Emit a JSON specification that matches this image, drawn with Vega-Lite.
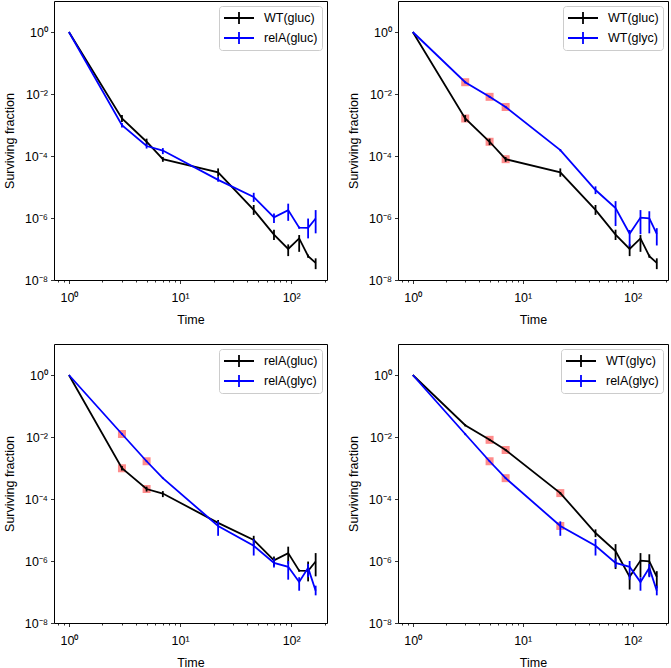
{
  "$schema": "https://vega.github.io/schema/vega-lite/v6.json",
  "background": "white",
  "padding": {"left": 2, "top": 0, "right": 0, "bottom": 0},
  "datasets": {
    "curves": [
      {"s": "WT(gluc)", "t": 1, "y": 1, "lo": 1, "hi": 1},
      {"s": "WT(gluc)", "t": 3, "y": 0.00162, "lo": 0.00126, "hi": 0.00209},
      {"s": "WT(gluc)", "t": 5, "y": 0.000288, "lo": 0.000224, "hi": 0.000363},
      {"s": "WT(gluc)", "t": 7, "y": 7.9e-5, "lo": 6.5e-5, "hi": 9.3e-5},
      {"s": "WT(gluc)", "t": 22, "y": 2.95e-5, "lo": 2.14e-5, "hi": 3.98e-5},
      {"s": "WT(gluc)", "t": 46, "y": 1.82e-6, "lo": 1.26e-6, "hi": 2.63e-6},
      {"s": "WT(gluc)", "t": 70, "y": 2.9e-7, "lo": 1.95e-7, "hi": 4.2e-7},
      {"s": "WT(gluc)", "t": 94, "y": 1.0e-7, "lo": 5.9e-8, "hi": 1.41e-7},
      {"s": "WT(gluc)", "t": 118, "y": 2.19e-7, "lo": 8.1e-8, "hi": 2.82e-7},
      {"s": "WT(gluc)", "t": 142, "y": 5.9e-8, "lo": 5.2e-8, "hi": 6.6e-8},
      {"s": "WT(gluc)", "t": 166, "y": 3.55e-8, "lo": 2.24e-8, "hi": 5.0e-8},
      {"s": "relA(gluc)", "t": 1, "y": 1, "lo": 1, "hi": 1},
      {"s": "relA(gluc)", "t": 3, "y": 0.00098, "lo": 0.00083, "hi": 0.00117},
      {"s": "relA(gluc)", "t": 5, "y": 0.00021, "lo": 0.000174, "hi": 0.00025},
      {"s": "relA(gluc)", "t": 7, "y": 0.00015, "lo": 0.000115, "hi": 0.00018},
      {"s": "relA(gluc)", "t": 22, "y": 1.7e-5, "lo": 1.48e-5, "hi": 2.1e-5},
      {"s": "relA(gluc)", "t": 46, "y": 4.8e-6, "lo": 3.3e-6, "hi": 6.5e-6},
      {"s": "relA(gluc)", "t": 70, "y": 1.05e-6, "lo": 6.9e-7, "hi": 1.4e-6},
      {"s": "relA(gluc)", "t": 94, "y": 1.8e-6, "lo": 8.1e-7, "hi": 2.9e-6},
      {"s": "relA(gluc)", "t": 118, "y": 4.9e-7, "lo": 4.5e-7, "hi": 5.3e-7},
      {"s": "relA(gluc)", "t": 142, "y": 4.8e-7, "lo": 2.2e-7, "hi": 9.6e-7},
      {"s": "relA(gluc)", "t": 166, "y": 9.6e-7, "lo": 3.2e-7, "hi": 1.8e-6},
      {"s": "WT(glyc)", "t": 1, "y": 1, "lo": 1, "hi": 1},
      {"s": "WT(glyc)", "t": 3, "y": 0.024, "lo": 0.022, "hi": 0.026},
      {"s": "WT(glyc)", "t": 5, "y": 0.0081, "lo": 0.0075, "hi": 0.0087},
      {"s": "WT(glyc)", "t": 7, "y": 0.0038, "lo": 0.0035, "hi": 0.0041},
      {"s": "WT(glyc)", "t": 22, "y": 0.000155, "lo": 0.000142, "hi": 0.000168},
      {"s": "WT(glyc)", "t": 46, "y": 8.0e-6, "lo": 5.9e-6, "hi": 1.05e-5},
      {"s": "WT(glyc)", "t": 70, "y": 2.1e-6, "lo": 5.5e-7, "hi": 3.5e-6},
      {"s": "WT(glyc)", "t": 94, "y": 3.1e-7, "lo": 1.2e-7, "hi": 4.1e-7},
      {"s": "WT(glyc)", "t": 118, "y": 1.03e-6, "lo": 3.0e-7, "hi": 1.8e-6},
      {"s": "WT(glyc)", "t": 142, "y": 9.8e-7, "lo": 3.2e-7, "hi": 1.65e-6},
      {"s": "WT(glyc)", "t": 166, "y": 3.1e-7, "lo": 1.3e-7, "hi": 4.7e-7},
      {"s": "relA(glyc)", "t": 1, "y": 1, "lo": 1, "hi": 1},
      {"s": "relA(glyc)", "t": 3, "y": 0.0125, "lo": 0.0115, "hi": 0.0135},
      {"s": "relA(glyc)", "t": 5, "y": 0.00165, "lo": 0.00155, "hi": 0.00175},
      {"s": "relA(glyc)", "t": 7, "y": 0.00047, "lo": 0.00044, "hi": 0.0005},
      {"s": "relA(glyc)", "t": 22, "y": 1.35e-5, "lo": 6.5e-6, "hi": 1.9e-5},
      {"s": "relA(glyc)", "t": 46, "y": 3.1e-6, "lo": 1.5e-6, "hi": 5.1e-6},
      {"s": "relA(glyc)", "t": 70, "y": 8.7e-7, "lo": 6.2e-7, "hi": 1.2e-6},
      {"s": "relA(glyc)", "t": 94, "y": 6.5e-7, "lo": 2.5e-7, "hi": 1.0e-6},
      {"s": "relA(glyc)", "t": 118, "y": 2.1e-7, "lo": 1.1e-7, "hi": 3.0e-7},
      {"s": "relA(glyc)", "t": 142, "y": 6.0e-7, "lo": 3.0e-7, "hi": 8.0e-7},
      {"s": "relA(glyc)", "t": 166, "y": 1.1e-7, "lo": 7.8e-8, "hi": 1.6e-7}
    ]
  },
  "config": {
    "font": "Liberation Sans",
    "view": {"stroke": "black", "strokeWidth": 1},
    "axis": {
      "grid": false, "domain": false, "tickColor": "black", "tickSize": 3.5, "tickWidth": 0.8,
      "labelColor": "black", "labelFontSize": 12.5, "labelFont": "Liberation Sans", "labelPadding": 3,
      "titleFont": "Liberation Sans", "titleFontSize": 12.5, "titleFontWeight": "normal", "titleColor": "black", "titlePadding": 5
    },
    "axisX": {"labelPadding": 8, "titlePadding": 9},
    "axisY": {"labelPadding": 3, "titlePadding": 8},
    "legend": {
      "orient": "top-right", "offset": 5, "padding": 4, "strokeColor": "#cccccc", "strokeWidth": 1,
      "fillColor": "white", "cornerRadius": 3, "symbolType": "M-1,0H1M0,-0.4V0.4", "symbolSize": 900,
      "symbolStrokeWidth": 1.8, "labelFontSize": 12.5, "labelFont": "Liberation Sans", "labelColor": "black",
      "labelOffset": 9, "clipHeight": 16, "rowPadding": 4
    }
  },
  "columns": 2,
  "spacing": {"row": 17, "column": 18},
  "resolve": {"scale": {"color": "independent"}, "legend": {"color": "independent"}},
  "concat": [
    {
      "width": 273, "height": 279,
      "data": {"name": "curves"},
      "transform": [{"filter": {"field": "s", "oneOf": ["WT(gluc)", "relA(gluc)"]}}],
      "resolve": {"axis": {"x": "independent"}},
      "layer": [
        {
          "mark": {"type": "line", "strokeWidth": 1.8},
          "encoding": {
            "x": {"field": "t", "type": "quantitative", "title": "Time", "scale": {"type": "log", "domain": [0.734, 210], "nice": false}, "axis": {"values": [1, 10, 100], "labelExpr": "'10' + replace(replace(replace(replace(replace(replace(replace(''+round(log(datum.value)/LN10),'-','⁻'),'0','⁰'),'1','¹'),'2','²'),'4','⁴'),'6','⁶'),'8','⁸')"}},
            "y": {"field": "y", "type": "quantitative", "title": "Surviving fraction", "scale": {"type": "log", "domain": [1e-8, 10], "nice": false}, "axis": {"values": [1e-8, 1e-6, 1e-4, 1e-2, 1], "labelExpr": "'10' + replace(replace(replace(replace(replace(replace(replace(''+round(log(datum.value)/LN10),'-','⁻'),'0','⁰'),'1','¹'),'2','²'),'4','⁴'),'6','⁶'),'8','⁸')"}},
            "color": {"field": "s", "type": "nominal", "title": null, "scale": {"domain": ["WT(gluc)", "relA(gluc)"], "range": ["#000000", "#0000ff"]}}
          }
        },
        {
          "mark": {"type": "rule", "strokeWidth": 1.8},
          "encoding": {
            "x": {"field": "t", "type": "quantitative", "scale": {"type": "log", "domain": [0.734, 210], "nice": false}, "axis": {"orient": "bottom", "values": [0.8, 0.9, 2, 3, 4, 5, 6, 7, 8, 9, 20, 30, 40, 50, 60, 70, 80, 90, 200], "labels": false, "tickSize": 2, "title": null}},
            "y": {"field": "lo", "type": "quantitative", "title": "Surviving fraction", "scale": {"type": "log", "domain": [1e-8, 10], "nice": false}},
            "y2": {"field": "hi"},
            "color": {"field": "s", "type": "nominal", "title": null, "scale": {"domain": ["WT(gluc)", "relA(gluc)"], "range": ["#000000", "#0000ff"]}}
          }
        }
      ]
    },
    {
      "width": 270, "height": 279,
      "data": {"name": "curves"},
      "transform": [{"filter": {"field": "s", "oneOf": ["WT(gluc)", "WT(glyc)"]}}],
      "resolve": {"axis": {"x": "independent"}},
      "layer": [
        {
          "transform": [{"filter": {"field": "t", "oneOf": [3, 5, 7]}}],
          "mark": {"type": "square", "color": "#ff0000", "opacity": 0.45, "size": 64},
          "encoding": {
            "x": {"field": "t", "type": "quantitative", "scale": {"type": "log", "domain": [0.734, 210], "nice": false}, "axis": null},
            "y": {"field": "y", "type": "quantitative", "title": "Surviving fraction", "scale": {"type": "log", "domain": [1e-8, 10], "nice": false}}
          }
        },
        {
          "mark": {"type": "line", "strokeWidth": 1.8},
          "encoding": {
            "x": {"field": "t", "type": "quantitative", "title": "Time", "scale": {"type": "log", "domain": [0.734, 210], "nice": false}, "axis": {"values": [1, 10, 100], "labelExpr": "'10' + replace(replace(replace(replace(replace(replace(replace(''+round(log(datum.value)/LN10),'-','⁻'),'0','⁰'),'1','¹'),'2','²'),'4','⁴'),'6','⁶'),'8','⁸')"}},
            "y": {"field": "y", "type": "quantitative", "title": "Surviving fraction", "scale": {"type": "log", "domain": [1e-8, 10], "nice": false}, "axis": {"values": [1e-8, 1e-6, 1e-4, 1e-2, 1], "labelExpr": "'10' + replace(replace(replace(replace(replace(replace(replace(''+round(log(datum.value)/LN10),'-','⁻'),'0','⁰'),'1','¹'),'2','²'),'4','⁴'),'6','⁶'),'8','⁸')"}},
            "color": {"field": "s", "type": "nominal", "title": null, "scale": {"domain": ["WT(gluc)", "WT(glyc)"], "range": ["#000000", "#0000ff"]}}
          }
        },
        {
          "mark": {"type": "rule", "strokeWidth": 1.8},
          "encoding": {
            "x": {"field": "t", "type": "quantitative", "scale": {"type": "log", "domain": [0.734, 210], "nice": false}, "axis": {"orient": "bottom", "values": [0.8, 0.9, 2, 3, 4, 5, 6, 7, 8, 9, 20, 30, 40, 50, 60, 70, 80, 90, 200], "labels": false, "tickSize": 2, "title": null}},
            "y": {"field": "lo", "type": "quantitative", "title": "Surviving fraction", "scale": {"type": "log", "domain": [1e-8, 10], "nice": false}},
            "y2": {"field": "hi"},
            "color": {"field": "s", "type": "nominal", "title": null, "scale": {"domain": ["WT(gluc)", "WT(glyc)"], "range": ["#000000", "#0000ff"]}}
          }
        }
      ]
    },
    {
      "width": 273, "height": 279,
      "data": {"name": "curves"},
      "transform": [{"filter": {"field": "s", "oneOf": ["relA(gluc)", "relA(glyc)"]}}],
      "resolve": {"axis": {"x": "independent"}},
      "layer": [
        {
          "transform": [{"filter": {"field": "t", "oneOf": [3, 5]}}],
          "mark": {"type": "square", "color": "#ff0000", "opacity": 0.45, "size": 64},
          "encoding": {
            "x": {"field": "t", "type": "quantitative", "scale": {"type": "log", "domain": [0.734, 210], "nice": false}, "axis": null},
            "y": {"field": "y", "type": "quantitative", "title": "Surviving fraction", "scale": {"type": "log", "domain": [1e-8, 10], "nice": false}}
          }
        },
        {
          "mark": {"type": "line", "strokeWidth": 1.8},
          "encoding": {
            "x": {"field": "t", "type": "quantitative", "title": "Time", "scale": {"type": "log", "domain": [0.734, 210], "nice": false}, "axis": {"values": [1, 10, 100], "labelExpr": "'10' + replace(replace(replace(replace(replace(replace(replace(''+round(log(datum.value)/LN10),'-','⁻'),'0','⁰'),'1','¹'),'2','²'),'4','⁴'),'6','⁶'),'8','⁸')"}},
            "y": {"field": "y", "type": "quantitative", "title": "Surviving fraction", "scale": {"type": "log", "domain": [1e-8, 10], "nice": false}, "axis": {"values": [1e-8, 1e-6, 1e-4, 1e-2, 1], "labelExpr": "'10' + replace(replace(replace(replace(replace(replace(replace(''+round(log(datum.value)/LN10),'-','⁻'),'0','⁰'),'1','¹'),'2','²'),'4','⁴'),'6','⁶'),'8','⁸')"}},
            "color": {"field": "s", "type": "nominal", "title": null, "scale": {"domain": ["relA(gluc)", "relA(glyc)"], "range": ["#000000", "#0000ff"]}}
          }
        },
        {
          "mark": {"type": "rule", "strokeWidth": 1.8},
          "encoding": {
            "x": {"field": "t", "type": "quantitative", "scale": {"type": "log", "domain": [0.734, 210], "nice": false}, "axis": {"orient": "bottom", "values": [0.8, 0.9, 2, 3, 4, 5, 6, 7, 8, 9, 20, 30, 40, 50, 60, 70, 80, 90, 200], "labels": false, "tickSize": 2, "title": null}},
            "y": {"field": "lo", "type": "quantitative", "title": "Surviving fraction", "scale": {"type": "log", "domain": [1e-8, 10], "nice": false}},
            "y2": {"field": "hi"},
            "color": {"field": "s", "type": "nominal", "title": null, "scale": {"domain": ["relA(gluc)", "relA(glyc)"], "range": ["#000000", "#0000ff"]}}
          }
        }
      ]
    },
    {
      "width": 270, "height": 279,
      "data": {"name": "curves"},
      "transform": [{"filter": {"field": "s", "oneOf": ["WT(glyc)", "relA(glyc)"]}}],
      "resolve": {"axis": {"x": "independent"}},
      "layer": [
        {
          "transform": [{"filter": {"field": "t", "oneOf": [5, 7, 22]}}],
          "mark": {"type": "square", "color": "#ff0000", "opacity": 0.45, "size": 64},
          "encoding": {
            "x": {"field": "t", "type": "quantitative", "scale": {"type": "log", "domain": [0.734, 210], "nice": false}, "axis": null},
            "y": {"field": "y", "type": "quantitative", "title": "Surviving fraction", "scale": {"type": "log", "domain": [1e-8, 10], "nice": false}}
          }
        },
        {
          "mark": {"type": "line", "strokeWidth": 1.8},
          "encoding": {
            "x": {"field": "t", "type": "quantitative", "title": "Time", "scale": {"type": "log", "domain": [0.734, 210], "nice": false}, "axis": {"values": [1, 10, 100], "labelExpr": "'10' + replace(replace(replace(replace(replace(replace(replace(''+round(log(datum.value)/LN10),'-','⁻'),'0','⁰'),'1','¹'),'2','²'),'4','⁴'),'6','⁶'),'8','⁸')"}},
            "y": {"field": "y", "type": "quantitative", "title": "Surviving fraction", "scale": {"type": "log", "domain": [1e-8, 10], "nice": false}, "axis": {"values": [1e-8, 1e-6, 1e-4, 1e-2, 1], "labelExpr": "'10' + replace(replace(replace(replace(replace(replace(replace(''+round(log(datum.value)/LN10),'-','⁻'),'0','⁰'),'1','¹'),'2','²'),'4','⁴'),'6','⁶'),'8','⁸')"}},
            "color": {"field": "s", "type": "nominal", "title": null, "scale": {"domain": ["WT(glyc)", "relA(glyc)"], "range": ["#000000", "#0000ff"]}}
          }
        },
        {
          "mark": {"type": "rule", "strokeWidth": 1.8},
          "encoding": {
            "x": {"field": "t", "type": "quantitative", "scale": {"type": "log", "domain": [0.734, 210], "nice": false}, "axis": {"orient": "bottom", "values": [0.8, 0.9, 2, 3, 4, 5, 6, 7, 8, 9, 20, 30, 40, 50, 60, 70, 80, 90, 200], "labels": false, "tickSize": 2, "title": null}},
            "y": {"field": "lo", "type": "quantitative", "title": "Surviving fraction", "scale": {"type": "log", "domain": [1e-8, 10], "nice": false}},
            "y2": {"field": "hi"},
            "color": {"field": "s", "type": "nominal", "title": null, "scale": {"domain": ["WT(glyc)", "relA(glyc)"], "range": ["#000000", "#0000ff"]}}
          }
        }
      ]
    }
  ]
}
